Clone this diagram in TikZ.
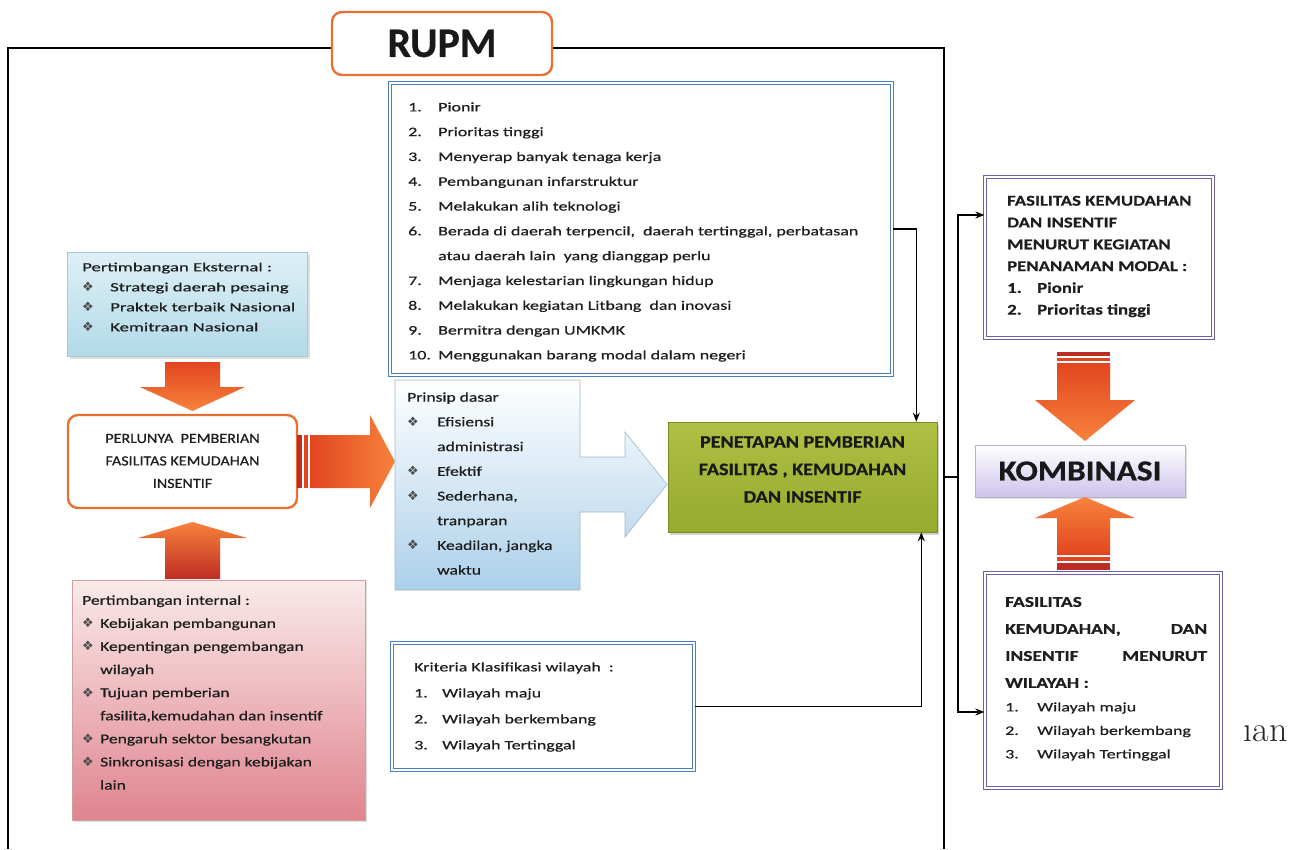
\documentclass[tikz,border=0pt]{standalone}
\usepackage{fontspec}
\setmainfont{Carlito}
\newfontfamily\symf{DejaVu Sans}
\newfontfamily\serf{Latin Modern Roman}
\newfontfamily\fA[FakeStretch=1.38,FakeBold=0.6]{Carlito}
\newfontfamily\fB[FakeStretch=1.3,FakeBold=0.6]{Carlito}
\newfontfamily\fC[FakeStretch=1.5,FakeBold=0.6]{Carlito}
\newfontfamily\fD[FakeStretch=1.15,FakeBold=0.6]{Carlito}
\newfontfamily\fF[FakeStretch=1.25,FakeBold=0.4]{Carlito}
\newfontfamily\fG[FakeBold=0.5]{Carlito}
\usetikzlibrary{arrows.meta,shadows}
\definecolor{orB}{RGB}{232,112,48}
\definecolor{orL}{RGB}{247,130,60}
\definecolor{orD}{RGB}{226,70,32}
\definecolor{orK}{RGB}{190,45,35}
\definecolor{blueB}{RGB}{75,125,195}
\definecolor{purB}{RGB}{112,92,172}
\definecolor{txtC}{RGB}{30,30,30}
\definecolor{extT}{RGB}{222,240,246}
\definecolor{extB}{RGB}{178,218,232}
\definecolor{extD}{RGB}{165,200,215}
\definecolor{intT}{RGB}{249,234,234}
\definecolor{intB}{RGB}{224,132,142}
\definecolor{intD}{RGB}{205,160,160}
\definecolor{prB}{RGB}{172,208,234}
\definecolor{prD}{RGB}{160,185,205}
\definecolor{gnT}{RGB}{175,192,68}
\definecolor{gnM}{RGB}{198,210,105}
\definecolor{gnB}{RGB}{150,170,45}
\definecolor{gnD}{RGB}{120,140,40}
\definecolor{kmB}{RGB}{205,195,236}
\definecolor{kmD}{RGB}{180,178,200}
\newcommand\bl[1]{\makebox[#1][l]{\textcolor{black!70}{\symf\fontsize{13}{13}\selectfont ❖}}}
\newcommand\nm[2]{\makebox[#1][l]{#2}}
\tikzset{
  frameline/.style={line width=1.8pt, draw=black},
  conn/.style={line width=1.5pt, draw=black, -{Stealth[length=9pt,width=7pt]}},
  plainline/.style={line width=1.5pt, draw=black},
  orbox/.style={draw=orB, line width=2.4pt, rounded corners=10pt, fill=white, inner sep=0pt},
  bluebox/.style={draw=blueB, line width=1.1pt, double=white, double distance=1.6pt, fill=white, inner sep=0pt},
  purbox/.style={draw=purB, line width=1.3pt, double=white, double distance=2pt, fill=white, inner sep=0pt},
  txt/.style={inner sep=0pt, align=left, text=txtC, anchor=west},
  softshadow/.style={drop shadow={opacity=0.25, shadow xshift=2pt, shadow yshift=-2pt}},
}
\begin{document}
\begin{tikzpicture}[x=1pt,y=-1pt]
\useasboundingbox (0,0) rectangle (1295,849);
\fill[white] (0,0) rectangle (1295,849);

% outer frame
\draw[frameline] (8,849) -- (8,48) -- (944,48) -- (944,849);

% RUPM title
\node[orbox, minimum width=220pt, minimum height=63pt, font=\fG\bfseries\fontsize{42}{42}\selectfont, text=black!90] (rupm) at (442,43.5) {RUPM};

% top criteria list
\node[bluebox, minimum width=502pt, minimum height=292pt] (lst) at (641,229) {};
\node[txt, font=\fA\fontsize{13}{24.8}\selectfont] (lstT) at (408,232) {%
\nm{30pt}{1.}Pionir\\
\nm{30pt}{2.}Prioritas tinggi\\
\nm{30pt}{3.}Menyerap banyak tenaga kerja\\
\nm{30pt}{4.}Pembangunan infarstruktur\\
\nm{30pt}{5.}Melakukan alih teknologi\\
\nm{30pt}{6.}Berada di daerah terpencil,\ \ daerah tertinggal, perbatasan\\
\hspace*{30pt}atau daerah lain\ \ yang dianggap perlu\\
\nm{30pt}{7.}Menjaga kelestarian lingkungan hidup\\
\nm{30pt}{8.}Melakukan kegiatan Litbang\ \ dan inovasi\\
\nm{30pt}{9.}Bermitra dengan UMKMK\\
\nm{30pt}{10.}Menggunakan barang modal dalam negeri};

% external considerations
\node[draw=extD, line width=0.6pt, top color=extT, bottom color=extB, minimum width=240pt, minimum height=104pt, softshadow] (ext) at (187.5,304.5) {};
\node[txt, font=\fC\fontsize{12.5}{20}\selectfont] (extTx) at (82,297) {%
Pertimbangan Eksternal :\\
\bl{28pt}Strategi daerah pesaing\\
\bl{28pt}Praktek terbaik Nasional\\
\bl{28pt}Kemitraan Nasional};

% down arrow (left)
\shade[top color=orD, bottom color=orL] (165,362) -- (220,362) -- (220,387) -- (245,387) -- (192.5,411) -- (140,387) -- (165,387) -- cycle;

% PERLUNYA box
\node[orbox, minimum width=229pt, minimum height=93pt] (per) at (182.5,461.5) {};
\node[inner sep=0pt, align=center, text=txtC, font=\fD\fontsize{14}{22.5}\selectfont] (perT) at (182.5,461) {%
PERLUNYA\ \ PEMBERIAN\\ FASILITAS KEMUDAHAN\\ INSENTIF};

% up arrow (left)
\shade[top color=orL, bottom color=orK] (192.5,522) -- (247,538) -- (220,538) -- (220,579) -- (165,579) -- (165,538) -- (138,538) -- cycle;

% internal considerations
\node[draw=intD, line width=0.6pt, top color=intT, bottom color=intB, minimum width=293pt, minimum height=240pt, softshadow] (int) at (218.5,700) {};
\node[txt, font=\fB\fontsize{13.5}{23.1}\selectfont] (intTx) at (82,692.5) {%
Pertimbangan internal :\\
\bl{18pt}Kebijakan pembangunan\\
\bl{18pt}Kepentingan pengembangan\\
\hspace*{18pt}wilayah\\
\bl{18pt}Tujuan pemberian\\
\hspace*{18pt}fasilita,kemudahan dan insentif\\
\bl{18pt}Pengaruh sektor besangkutan\\
\bl{18pt}Sinkronisasi dengan\ kebijakan\\
\hspace*{18pt}lain};

% striped right arrow
\fill[orK] (297,435) rectangle (302,488);
\fill[orD] (304,435) rectangle (308,488);
\shade[left color=orD, right color=orL] (310,435) -- (370,435) -- (370,415) -- (395,461.5) -- (370,508) -- (370,488) -- (310,488) -- cycle;

% Prinsip dasar callout
\shade[top color=white, bottom color=prB, draw=prD, line width=0.6pt] (395,380) -- (580,380) -- (580,457) -- (625,457) -- (625,432) -- (667,484.5) -- (625,537) -- (625,512) -- (580,512) -- (580,590) -- (395,590) -- cycle;
\node[txt, font=\fB\fontsize{13.5}{24.7}\selectfont] (prT) at (407,483.5) {%
Prinsip dasar\\
\bl{30pt}Efisiensi\\
\hspace*{30pt}administrasi\\
\bl{30pt}Efektif\\
\bl{30pt}Sederhana,\\
\hspace*{30pt}tranparan\\
\bl{30pt}Keadilan, jangka\\
\hspace*{30pt}waktu};

% PENETAPAN box
\node[draw=gnD, line width=0.6pt, top color=gnT, middle color=gnM, bottom color=gnB, minimum width=269pt, minimum height=110pt, drop shadow={opacity=0.35, shadow xshift=2pt, shadow yshift=-3pt}] (pen) at (802.5,477) {};
\node[inner sep=0pt, align=center, text=black!90, font=\fD\bfseries\fontsize{17.5}{27.5}\selectfont] (penT) at (802.5,469.5) {%
PENETAPAN PEMBERIAN\\ FASILITAS , KEMUDAHAN\\ DAN INSENTIF};

% Kriteria box
\node[bluebox, minimum width=302pt, minimum height=127pt] (kri) at (543,706.5) {};
\node[txt, font=\fA\fontsize{13}{26}\selectfont] (kriT) at (414,707) {%
Kriteria Klasifikasi wilayah\ \ :\\
\nm{28pt}{1.}Wilayah maju\\
\nm{28pt}{2.}Wilayah berkembang\\
\nm{28pt}{3.}Wilayah Tertinggal};

% connectors into PENETAPAN
\draw[conn] (lst.east) -| ([xshift=-21pt]pen.north east);
\draw[conn] (kri.east) -| ([xshift=-16pt]pen.south east);

% right side boxes
\node[purbox, minimum width=228pt, minimum height=161pt] (fk1) at (1099,257.5) {};
\node[txt, font=\fF\bfseries\fontsize{15}{21.8}\selectfont] (fk1T) at (1007,256.5) {%
FASILITAS KEMUDAHAN\\
DAN INSENTIF\\
MENURUT KEGIATAN\\
PENANAMAN MODAL :\\
\nm{30pt}{1.}Pionir\\
\nm{30pt}{2.}Prioritas tinggi};

\node[purbox, minimum width=236pt, minimum height=215pt] (fk2) at (1103,680.5) {};
\node[txt, font=\fB\bfseries\fontsize{15}{27}\selectfont] (fk2T) at (1005,642.5) {%
FASILITAS\\
\hbox to 202pt{KEMUDAHAN,\hfill DAN}\\
\hbox to 202pt{INSENTIF\hfill MENURUT}\\
WILAYAH :};
\node[txt, font=\fA\fontsize{13}{23.5}\selectfont] (fk2I) at (1005,731.5) {%
\nm{32pt}{1.}Wilayah maju\\
\nm{32pt}{2.}Wilayah berkembang\\
\nm{32pt}{3.}Wilayah Tertinggal};

% KOMBINASI
\node[draw=kmD, line width=0.6pt, top color=white, bottom color=kmB, minimum width=210pt, minimum height=52pt, softshadow, font=\fD\bfseries\fontsize{29}{29}\selectfont, text=black!90, inner sep=0pt] (komb) at (1080,471) {KOMBINASI};

% orange arrows into KOMBINASI
\fill[orK] (1057,352) rectangle (1110,356);
\fill[orD] (1057,358) rectangle (1110,361);
\shade[top color=orD, bottom color=orL] (1057,363) -- (1110,363) -- (1110,400) -- (1135,400) -- (1085,441) -- (1035,400) -- (1057,400) -- cycle;
\shade[top color=orL, bottom color=orD] (1085,497) -- (1135,518) -- (1110,518) -- (1110,555) -- (1057,555) -- (1057,518) -- (1035,518) -- cycle;
\fill[orD] (1057,557) rectangle (1110,561);
\fill[orK] (1057,563) rectangle (1110,570);

% right connectors
\coordinate (j1) at (944,477);
\coordinate (j2) at (958,477);
\draw[plainline] (j1) -- (j2);
\draw[conn] (j2) |- ([yshift=42.5pt]fk1.west);
\draw[conn] (j2) |- ([yshift=-31.5pt]fk2.west);

% cut-off page text
\node[inner sep=0pt, anchor=base east, font=\serf\fontsize{36}{36}\selectfont, text=black!85] (ian) at (1288,741) {ıan};
\end{tikzpicture}
\end{document}
